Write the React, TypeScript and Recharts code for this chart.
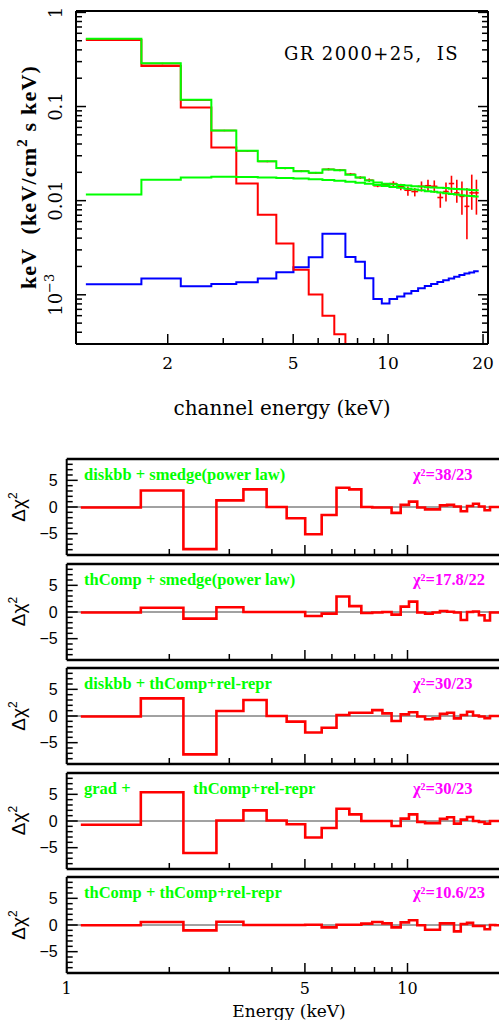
import React from "react";
import {
  ComposedChart,
  Line,
  Scatter,
  ErrorBar,
  XAxis,
  YAxis,
  ReferenceLine,
} from "recharts";

// channel bin edges (keV), shared by the spectrum and the residual panels
const binEdges = [
  1.1, 1.65, 2.2, 2.75, 3.3, 3.86, 4.42, 5.01, 5.6, 6.19, 6.75, 7.32, 7.88,
  8.44, 8.98, 9.55, 10.1, 10.68, 11.26, 11.85, 12.45, 13.07, 13.69, 14.33,
  14.95, 15.57, 16.2, 16.83, 17.46, 18.1, 18.74, 19.38,
];

// unfolded spectrum, keV (keV/cm^2 s keV)
const totalModel = [
  0.526, 0.288, 0.118, 0.0557, 0.0339, 0.0262, 0.0222, 0.0205, 0.0198, 0.0214,
  0.0211, 0.0189, 0.0176, 0.0164, 0.0156, 0.0151, 0.0149, 0.0147, 0.0145,
  0.0142, 0.0141, 0.0139, 0.0138, 0.0137, 0.0136, 0.0134, 0.0133, 0.0132,
  0.0131, 0.013, 0.0129,
];
const powerLawModel = [
  0.0116, 0.0167, 0.0176, 0.0179, 0.0178, 0.0176, 0.0174, 0.0172, 0.0169,
  0.0166, 0.0163, 0.0159, 0.0155, 0.0151, 0.0147, 0.0143, 0.014, 0.0137,
  0.0134, 0.0131, 0.0129, 0.0126, 0.0124, 0.0122, 0.012, 0.0118, 0.0116,
  0.0114, 0.0113, 0.0112, 0.0111,
];
const reflectionModel = [
  0.00129, 0.00149, 0.00123, 0.0013, 0.00136, 0.00149, 0.00174, 0.00196,
  0.0025, 0.00444, 0.00444, 0.00252, 0.00224, 0.0015, 0.0009, 0.00081, 0.0009,
  0.00096, 0.00103, 0.0011, 0.00117, 0.00124, 0.0013, 0.00137, 0.00143,
  0.00149, 0.00155, 0.00162, 0.00168, 0.00173, 0.00178,
];
const diskModel = [
  0.51, 0.27, 0.0975, 0.0367, 0.0152, 0.0071, 0.0035, 0.00184, 0.00101, 0.0006,
  0.00038, 0.0002,
];
const dataFlux = [
  0.522, 0.286, 0.117, 0.0556, 0.0338, 0.0261, 0.0221, 0.0206, 0.0197, 0.0215,
  0.0211, 0.0191, 0.0176, 0.0165, 0.0144, 0.0148, 0.0152, 0.0141, 0.0129,
  0.0125, 0.0142, 0.0144, 0.0142, 0.0108, 0.0125, 0.0152, 0.0121, 0.0111,
  0.0087, 0.0121, 0.0121,
];
const dataLow = [
  0.512, 0.281, 0.115, 0.0547, 0.0332, 0.0256, 0.0216, 0.0201, 0.0192, 0.021,
  0.0205, 0.0185, 0.017, 0.0158, 0.0139, 0.0142, 0.0141, 0.0129, 0.0113,
  0.0111, 0.0125, 0.0125, 0.0121, 0.0084, 0.0098, 0.0121, 0.0095, 0.0071,
  0.0039, 0.008, 0.0071,
];
const dataHigh = [
  0.532, 0.291, 0.119, 0.0565, 0.0344, 0.0266, 0.0226, 0.0211, 0.0202, 0.0222,
  0.0217, 0.0197, 0.0182, 0.0172, 0.015, 0.0154, 0.0161, 0.0151, 0.0141,
  0.0136, 0.016, 0.0167, 0.0164, 0.0125, 0.0156, 0.0184, 0.0167, 0.016, 0.0136,
  0.0189, 0.0167,
];

// delta chi^2 residuals, one list per model
const residDiskbbSmedge = [
  -0.1, 3.1, -7.9, 1.25, 3.3, 0, -2.1, -5.1, -1.5, 3.6, 3.3, 0, -0.1, -0.1,
  -1.1, 0.4, 1.0, -0.1, -0.45, -0.45, 0.3, 0.4, 0.1, -0.8, 0.2, 0.6, 0.1, -0.6,
  0, 0, 0,
];
const residThcompSmedge = [
  -0.1, 0.8, -1.25, 0.9, 0, 0, 0, -0.75, -0.3, 2.9, 1.1, -0.2, -0.1, 0, -0.5,
  1.0, 1.95, -0.1, -0.3, -0.1, 0.2, 0.05, -0.1, -1.5, 0, 0.1, -0.6, -1.6, -0.1,
  -0.1, 0,
];
const residDiskbbRel = [
  -0.1, 3.3, -7.2, 0.95, 3.0, 0, -1.05, -3.1, -2.2, 0.2, 0.6, 0.6, 1.1, 0.5,
  -0.95, 0.3, 0.7, -0.1, -0.6, -0.45, 0.4, 0.6, -0.45, 0.2, 0.8, 0.1, -0.1,
  -0.4, 0, 0, 0,
];
const residGradRel = [
  -0.7, 5.4, -6.0, 0.1, 2.0, 0.1, -0.6, -3.1, -1.3, 2.3, 1.25, 0, 0, 0, -0.95,
  0.45, 1.25, -0.2, -0.4, -0.4, 0.4, 0.7, -0.5, 0.25, 0.75, 0, -0.2, -0.5, 0, 0,
  0,
];
const residThcompRel = [
  -0.05, 0.55, -1.0, 0.6, 0, 0, 0, 0.05, -0.45, 0.05, 0.05, 0.25, 0.55, 0.3,
  -0.45, 0.5, 0.9, -0.05, -0.9, -0.9, 0.3, 0.3, -1.2, 0.2, 0.4, -0.2, -0.2,
  -0.8, 0, -0.05, 0,
];

const panelResiduals = [
  residDiskbbSmedge,
  residThcompSmedge,
  residDiskbbRel,
  residGradRel,
  residThcompRel,
];
const panelModels = [
  ["diskbb + smedge(power law)"],
  ["thComp + smedge(power law)"],
  ["diskbb + thComp+rel-repr"],
  ["grad +", "thComp+rel-repr"],
  ["thComp + thComp+rel-repr"],
];
const panelChi2 = ["38/23", "17.8/22", "30/23", "30/23", "10.6/23"];

// ticks
const fluxTicksX = [2, 3, 4, 5, 6, 7, 8, 9, 10, 20];
const fluxMajorX = [2, 5, 10, 20];
const fluxTicksY = [
  0.0004, 0.0005, 0.0006, 0.0007, 0.0008, 0.0009, 0.001, 0.002, 0.003, 0.004,
  0.005, 0.006, 0.007, 0.008, 0.009, 0.01, 0.02, 0.03, 0.04, 0.05, 0.06, 0.07,
  0.08, 0.09, 0.1, 0.2, 0.3, 0.4, 0.5, 0.6, 0.7, 0.8, 0.9, 1,
];
const fluxMajorY = [0.001, 0.01, 0.1, 1];
const residTicksX = [1, 2, 3, 4, 5, 6, 7, 8, 9, 10, 20];
const residMajorX = [1, 5, 10];
const residTicksY = [-8, -7, -6, -5, -4, -3, -2, -1, 0, 1, 2, 3, 4, 5, 6, 7, 8];
const residMajorY = [-5, 0, 5];

const RED = "#ff0000";
const GREEN = "#00ff00";
const BLUE = "#0000ff";
const MAGENTA = "#ff00ff";
const SERIF = "DejaVu Serif";

const toSteps = (vals: number[]) => [
  ...vals.map((v, i) => ({ x: binEdges[i], y: v })),
  { x: binEdges[vals.length], y: vals[vals.length - 1] },
];

const dataPoints = dataFlux.map((v, i) => {
  const lo = binEdges[i];
  const hi = binEdges[i + 1];
  const c = (lo + hi) / 2;
  return { x: c, y: v, ex: [c - lo, hi - c], ey: [v - dataLow[i], dataHigh[i] - v] };
});

const isIn = (v: number, list: number[]) =>
  list.some((m) => Math.abs(m - v) <= Math.abs(m) * 1e-6 + 1e-9);

type Side = "bottom" | "top" | "left" | "right";

// inward tick marks, labels only on the major ones
function makeTick(
  side: Side,
  majors: number[],
  majorLen: number,
  minorLen: number,
  label?: (v: number, x: number, y: number) => React.ReactNode
) {
  return (props: any) => {
    const { x, y, payload } = props;
    const v = payload.value;
    const major = isIn(v, majors);
    const len = major ? majorLen : minorLen;
    let x2 = x;
    let y2 = y;
    if (side === "bottom") y2 = y - len;
    else if (side === "top") y2 = y + len;
    else if (side === "left") x2 = x + len;
    else x2 = x - len;
    return (
      <g>
        <line x1={x} y1={y} x2={x2} y2={y2} stroke="#000" strokeWidth={1.5} />
        {major && label ? label(v, x, y) : null}
      </g>
    );
  };
}

const fluxXLabel = (v: number, x: number, y: number) => (
  <text x={x} y={y + 25} textAnchor="middle" fontFamily={SERIF} fontSize={17} fill="#000">
    {v}
  </text>
);

const fluxYLabel = (v: number, x: number, y: number) => (
  <text
    transform={`translate(${x - 14},${y}) rotate(-90)`}
    textAnchor="middle"
    fontFamily={SERIF}
    fontSize={18}
    fill="#000"
  >
    {v === 0.001 ? (
      <>
        10
        <tspan dy={-8} fontSize={13}>
          −3
        </tspan>
      </>
    ) : (
      String(v)
    )}
  </text>
);

const residYLabel = (v: number, x: number, y: number) => (
  <text x={x - 9} y={y + 5.5} textAnchor="end" fontFamily="Liberation Sans" fontSize={16} fill="#000">
    {v < 0 ? `−${-v}` : String(v)}
  </text>
);

const residXLabel = (v: number, x: number, y: number) => (
  <text x={x} y={y + 20.5} textAnchor="middle" fontFamily={SERIF} fontSize={16} fill="#000">
    {v}
  </text>
);

const frame = { stroke: "#000", strokeWidth: 2 };
const thickFrame = { stroke: "#000", strokeWidth: 2.6 };

// every axis is 1px thick so it still renders; margins are reduced by that pixel
function SpectrumPanel() {
  return (
    <ComposedChart width={499} height={440} margin={{ top: 10, right: 10, bottom: 95, left: 75 }}>
      <XAxis
        xAxisId="b"
        dataKey="x"
        type="number"
        scale="log"
        domain={[1.0235, 20.74]}
        allowDataOverflow
        ticks={fluxTicksX}
        interval={0}
        height={1}
        tickSize={0}
        tickMargin={0}
        tickLine={false}
        axisLine={frame}
        tick={makeTick("bottom", fluxMajorX, 10, 6, fluxXLabel)}
      />
      <XAxis
        xAxisId="t"
        orientation="top"
        type="number"
        scale="log"
        domain={[1.0235, 20.74]}
        allowDataOverflow
        ticks={fluxTicksX}
        interval={0}
        height={1}
        tickSize={0}
        tickMargin={0}
        tickLine={false}
        axisLine={frame}
        tick={makeTick("top", fluxMajorX, 10, 6)}
      />
      <YAxis
        yAxisId="l"
        dataKey="y"
        type="number"
        scale="log"
        domain={[0.0003, 1.035]}
        allowDataOverflow
        ticks={fluxTicksY}
        interval={0}
        width={1}
        tickSize={0}
        tickMargin={0}
        tickLine={false}
        axisLine={frame}
        tick={makeTick("left", fluxMajorY, 10, 6, fluxYLabel)}
      />
      <YAxis
        yAxisId="r"
        orientation="right"
        type="number"
        scale="log"
        domain={[0.0003, 1.035]}
        allowDataOverflow
        ticks={fluxTicksY}
        interval={0}
        width={1}
        tickSize={0}
        tickMargin={0}
        tickLine={false}
        axisLine={frame}
        tick={makeTick("right", fluxMajorY, 10, 6)}
      />
      <Line
        xAxisId="b"
        yAxisId="l"
        data={toSteps(reflectionModel)}
        dataKey="y"
        type="stepAfter"
        stroke={BLUE}
        strokeWidth={2}
        dot={false}
        activeDot={false}
        isAnimationActive={false}
      />
      <Line
        xAxisId="b"
        yAxisId="l"
        data={toSteps(diskModel)}
        dataKey="y"
        type="stepAfter"
        stroke={RED}
        strokeWidth={2}
        dot={false}
        activeDot={false}
        isAnimationActive={false}
      />
      <Scatter
        xAxisId="b"
        yAxisId="l"
        data={dataPoints}
        dataKey="y"
        fill={RED}
        shape={() => <g />}
        isAnimationActive={false}
      >
        <ErrorBar dataKey="ey" direction="y" width={0} stroke={RED} strokeWidth={1.6} isAnimationActive={false} />
        <ErrorBar dataKey="ex" direction="x" width={0} stroke={RED} strokeWidth={1.6} isAnimationActive={false} />
      </Scatter>
      <Line
        xAxisId="b"
        yAxisId="l"
        data={toSteps(powerLawModel)}
        dataKey="y"
        type="stepAfter"
        stroke={GREEN}
        strokeWidth={2}
        dot={false}
        activeDot={false}
        isAnimationActive={false}
      />
      <Line
        xAxisId="b"
        yAxisId="l"
        data={toSteps(totalModel)}
        dataKey="y"
        type="stepAfter"
        stroke={GREEN}
        strokeWidth={2}
        dot={false}
        activeDot={false}
        isAnimationActive={false}
      />
    </ComposedChart>
  );
}

function ResidualPanel({ values, last }: { values: number[]; last: boolean }) {
  const bottom = last ? 50 : 10;
  return (
    <ComposedChart
      width={530}
      height={96 + 10 + bottom}
      margin={{ top: 9, right: 19.9, bottom: bottom - 1, left: 65.7 }}
    >
      <XAxis
        xAxisId="b"
        dataKey="x"
        type="number"
        scale="log"
        domain={[1, 20]}
        allowDataOverflow
        ticks={residTicksX}
        interval={0}
        height={1}
        tickSize={0}
        tickMargin={0}
        tickLine={false}
        axisLine={thickFrame}
        tick={makeTick("bottom", residMajorX, 10, 6, last ? residXLabel : undefined)}
      />
      <XAxis
        xAxisId="t"
        orientation="top"
        type="number"
        scale="log"
        domain={[1, 20]}
        allowDataOverflow
        ticks={residTicksX}
        interval={0}
        height={1}
        tickSize={0}
        tickMargin={0}
        tickLine={false}
        axisLine={thickFrame}
        tick={makeTick("top", residMajorX, 10, 6)}
      />
      <YAxis
        yAxisId="l"
        dataKey="y"
        type="number"
        domain={[-9, 9]}
        allowDataOverflow
        ticks={residTicksY}
        interval={0}
        width={1}
        tickSize={0}
        tickMargin={0}
        tickLine={false}
        axisLine={frame}
        tick={makeTick("left", residMajorY, 11, 6, residYLabel)}
      />
      <ReferenceLine xAxisId="b" yAxisId="l" y={0} stroke="#444" strokeWidth={1} />
      <Line
        xAxisId="b"
        yAxisId="l"
        data={toSteps(values)}
        dataKey="y"
        type="stepAfter"
        stroke={RED}
        strokeWidth={2.6}
        dot={false}
        activeDot={false}
        isAnimationActive={false}
      />
    </ComposedChart>
  );
}

const panelTops = [459, 563.5, 668, 772.5, 877];
const labelFont = {
  fontFamily: "Liberation Serif",
  fontWeight: "bold" as const,
  fontSize: 16.5,
};

export default function App() {
  return (
    <div
      style={{
        position: "absolute",
        left: 0,
        top: 0,
        width: 499,
        height: 1020,
        overflow: "hidden",
        background: "#fff",
      }}
    >
      <div style={{ position: "absolute", left: 0, top: 0 }}>
        <SpectrumPanel />
      </div>
      {panelResiduals.map((vals, i) => (
        <div key={i} style={{ position: "absolute", left: 0, top: panelTops[i] - 10 }}>
          <ResidualPanel values={vals} last={i === panelResiduals.length - 1} />
        </div>
      ))}
      <svg
        width={499}
        height={1020}
        style={{ position: "absolute", left: 0, top: 0, pointerEvents: "none" }}
      >
        <text x={284} y={60} fontFamily={SERIF} fontSize={18} letterSpacing={1.4} style={{ whiteSpace: "pre" }}>
          GR 2000+25,  IS
        </text>
        <text x={282} y={415} textAnchor="middle" fontFamily={SERIF} fontSize={20}>
          channel energy (keV)
        </text>
        <text
          transform="translate(36,177) rotate(-90)"
          textAnchor="middle"
          fontFamily="Liberation Serif"
          fontWeight="bold"
          fontSize={22}
          letterSpacing={1.2}
          style={{ whiteSpace: "pre" }}
        >
          keV  (keV/cm
          <tspan dy={-9} fontSize={15}>
            2
          </tspan>
          <tspan dy={9}> s keV)</tspan>
        </text>
        {panelTops.map((top, i) => (
          <g key={i}>
            <text x={84} y={top + 21} fill={GREEN} {...labelFont}>
              {panelModels[i][0]}
            </text>
            {panelModels[i][1] ? (
              <text x={193} y={top + 21} fill={GREEN} {...labelFont}>
                {panelModels[i][1]}
              </text>
            ) : null}
            <text x={413} y={top + 21} fill={MAGENTA} {...labelFont}>
              {`χ²=${panelChi2[i]}`}
            </text>
            <text
              transform={`translate(25,${top + 48}) rotate(-90)`}
              textAnchor="middle"
              fontFamily="Liberation Sans"
              fontSize={19}
            >
              Δχ
              <tspan dy={-8} fontSize={12}>
                2
              </tspan>
            </text>
          </g>
        ))}
        <text x={289} y={1016.5} textAnchor="middle" fontFamily={SERIF} fontSize={17}>
          Energy (keV)
        </text>
      </svg>
    </div>
  );
}
